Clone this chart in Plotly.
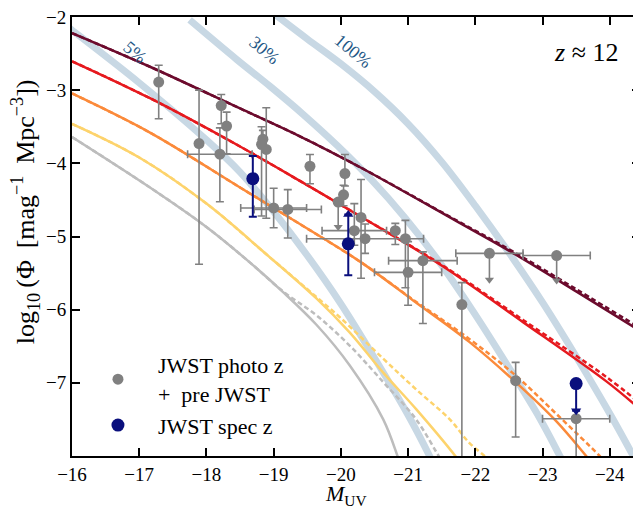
import numpy as np
import plotly.graph_objects as go

# ---- model curves (M_UV, log10 Phi) ----
maroon_M = [-16.0, -17.16, -18.5, -19.39, -20.28, -21.72, -22.55, -23.5, -24.45]
maroon_phi = [-2.22, -2.68, -3.25, -3.63, -4.05, -4.79, -5.22, -5.75, -6.29]
maroon_dash_M = [-16.0, -17.16, -18.5, -19.39, -20.28, -21.72, -22.55, -23.5, -24.45]
maroon_dash_phi = [-2.22, -2.68, -3.25, -3.63, -4.05, -4.78, -5.20, -5.72, -6.25]

red_M = [-16.0, -17.16, -18.5, -19.39, -20.28, -21.47, -22.71, -23.95, -24.45]
red_phi = [-2.605, -3.11, -3.77, -4.24, -4.72, -5.38, -6.17, -6.98, -7.36]
red_dash_M = [-16.0, -17.16, -18.5, -19.39, -20.28, -21.47, -22.71, -23.95, -24.45]
red_dash_phi = [-2.605, -3.11, -3.77, -4.24, -4.72, -5.37, -6.14, -6.92, -7.28]

orange_M = [-16.0, -17.16, -18.5, -19.39, -20.28, -21.07, -21.91, -22.6, -23.2, -23.65, -23.8]
orange_phi = [-3.045, -3.58, -4.33, -4.83, -5.34, -5.87, -6.44, -6.99, -7.52, -8.0, -8.17]
orange_dash_M = [-16.0, -17.16, -18.5, -19.39, -20.28, -21.07, -21.91, -22.6, -23.2, -23.85, -24.0]
orange_dash_phi = [-3.045, -3.58, -4.33, -4.83, -5.34, -5.86, -6.40, -6.90, -7.42, -8.0, -8.15]

yellow_M = [-16.0, -17.0, -18.0, -18.9, -19.64, -20.13, -20.63, -21.12, -21.72, -21.8]
yellow_phi = [-3.46, -3.92, -4.55, -5.25, -5.85, -6.31, -6.86, -7.36, -8.02, -8.12]
yellow_dash_M = [-16.0, -17.0, -18.0, -18.9, -19.64, -19.98, -20.63, -21.12, -21.62, -21.91, -22.16, -22.25]
yellow_dash_phi = [-3.46, -3.92, -4.55, -5.25, -5.83, -6.10, -6.67, -7.09, -7.50, -7.82, -8.02, -8.12]

grey_M = [-16.0, -17.16, -18.0, -18.64, -19.14, -19.64, -20.13, -20.63, -20.85, -20.9]
grey_phi = [-3.64, -4.33, -4.87, -5.35, -5.76, -6.21, -6.76, -7.50, -8.02, -8.15]
grey_dash_M = [-16.0, -17.16, -18.0, -18.64, -19.14, -19.64, -20.13, -20.63, -21.12, -21.47, -21.55]
grey_dash_phi = [-3.64, -4.33, -4.87, -5.35, -5.75, -6.08, -6.49, -6.99, -7.50, -8.02, -8.12]

# ---- maximum-efficiency bands ----
band5_M = [-15.8, -16.0, -17.0, -18.0, -18.5, -19.0, -19.5, -20.0, -20.5, -21.0, -21.32, -21.45]
band5_phi = [-2.04, -2.18, -2.9, -3.68, -4.12, -4.66, -5.26, -5.92, -6.66, -7.44, -8.0, -8.25]
band30_M = [-17.75, -18.45, -18.95, -19.45, -19.95, -20.45, -20.95, -21.45, -21.95, -22.45, -22.95, -23.27, -23.4]
band30_phi = [-2.04, -2.58, -2.95, -3.34, -3.76, -4.22, -4.74, -5.33, -6.0, -6.72, -7.47, -8.02, -8.25]
band100_M = [-19.0, -19.5, -20.0, -20.5, -21.0, -21.5, -22.0, -22.5, -23.0, -23.5, -24.0, -24.35, -24.5]
band100_phi = [-1.95, -2.3, -2.64, -3.02, -3.46, -3.98, -4.58, -5.22, -5.9, -6.64, -7.42, -8.0, -8.25]
band_labels = ["5%", "30%", "100%"]
band_label_M = [-16.93, -18.86, -20.18]
band_label_phi = [-2.48, -2.45, -2.47]

# ---- data points ----
obs_M = [-17.29, -17.89, -18.20, -18.22, -18.30, -18.84, -18.82, -18.89, -19.00, -19.21,
         -19.54, -20.06, -20.04, -19.96, -20.30, -20.20, -20.36, -20.81, -20.96, -21.22,
         -21.00, -21.80, -22.21, -23.21, -22.60, -23.50]
obs_phi = [-2.89, -3.73, -3.875, -3.21, -3.49, -3.67, -3.74, -3.81, -4.61, -4.63,
           -4.04, -4.14, -4.43, -4.53, -4.74, -4.92, -5.03, -4.92, -5.03, -5.33,
           -5.49, -5.93, -5.23, -5.26, -6.97, -7.49]
obs_err_up = [0.23, 0.73, 0.36, 0.15, 0.19, 0.12, 0.24, 0.57, 0.27, 0.27,
              0.16, 0.26, 0.13, 0.0, 0.52, 0.37, 0.20, 0.10, 0.25, 0.12,
              0.42, 0.30, 0.0, 0.0, 0.25, 0.0]
obs_err_dn = [0.50, 1.65, 0.65, 0.25, 0.38, 0.13, 0.98, 0.94, 0.27, 0.39,
              0.24, 0.17, 0.15, 0.34, 0.83, 0.20, 0.20, 0.19, 0.67, 0.86,
              0.45, 2.10, 0.36, 0.34, 0.77, 0.60]
obs_xerr = [0, 0, 0.48, 0, 0, 0, 0, 0, 0.49, 0.50,
            0, 0, 0, 0, 0, 0.48, 0.87, 0, 0, 0.51,
            0.50, 0, 0.50, 0.50, 0, 0.50]
obs_upper_limit = [0, 0, 0, 0, 0, 0, 0, 0, 0, 0,
                   0, 0, 0, 1, 0, 0, 0, 0, 0, 0,
                   0, 0, 1, 1, 0, 0]

spec_M = [-18.69, -20.11, -23.50]
spec_phi = [-4.21, -5.10, -7.01]
spec_err_up = [0.31, 0.40, 0.0]
spec_err_dn = [0.52, 0.43, 0.37]
spec_limit = [0, 1, -1]   # +1 lower limit (arrow up), -1 upper limit (arrow down)

SERIF = "Liberation Serif, Times New Roman, serif"
GREY_PT = "#808080"
NAVY = "#0a0f7d"
BAND = "#c8d8e4"

fig = go.Figure()

# bands
for bm, bp in [(band5_M, band5_phi), (band30_M, band30_phi), (band100_M, band100_phi)]:
    fig.add_trace(go.Scatter(x=bm, y=bp, mode="lines", line=dict(color=BAND, width=7, shape="spline"),
                             showlegend=False, hoverinfo="skip"))

# model curves: dashed first, solid on top
curves = [
    (grey_M, grey_phi, grey_dash_M, grey_dash_phi, "#bdbdbd"),
    (yellow_M, yellow_phi, yellow_dash_M, yellow_dash_phi, "#fdd36c"),
    (orange_M, orange_phi, orange_dash_M, orange_dash_phi, "#fb8a3a"),
    (red_M, red_phi, red_dash_M, red_dash_phi, "#e6191e"),
    (maroon_M, maroon_phi, maroon_dash_M, maroon_dash_phi, "#6c0b2d"),
]
for sm, sp, dm, dp, col in curves:
    fig.add_trace(go.Scatter(x=dm, y=dp, mode="lines",
                             line=dict(color=col, width=2.5, dash="5px,3px", shape="spline"),
                             showlegend=False, hoverinfo="skip"))
    fig.add_trace(go.Scatter(x=sm, y=sp, mode="lines", line=dict(color=col, width=2.5, shape="spline"),
                             showlegend=False, hoverinfo="skip"))

# photometric + pre-JWST points
obs_M_a = np.array(obs_M)
obs_phi_a = np.array(obs_phi)
ul = np.array(obs_upper_limit) == 1
det = ~ul
fig.add_trace(go.Scatter(
    x=obs_M_a[det], y=obs_phi_a[det], mode="markers",
    marker=dict(color=GREY_PT, size=11),
    error_y=dict(type="data", symmetric=False, array=np.array(obs_err_up)[det],
                 arrayminus=np.array(obs_err_dn)[det], color=GREY_PT, thickness=1.6, width=4),
    error_x=dict(type="data", array=np.array(obs_xerr)[det], color=GREY_PT, thickness=1.6, width=4),
    name="JWST photo z<br>+\u00a0 pre JWST", legendgroup="a", showlegend=True))
fig.add_trace(go.Scatter(
    x=obs_M_a[ul], y=obs_phi_a[ul], mode="markers",
    marker=dict(color=GREY_PT, size=11),
    error_y=dict(type="data", symmetric=False, array=np.array(obs_err_up)[ul],
                 arrayminus=np.array(obs_err_dn)[ul], color=GREY_PT, thickness=1.6, width=0),
    error_x=dict(type="data", array=np.array(obs_xerr)[ul], color=GREY_PT, thickness=1.6, width=4),
    showlegend=False, hoverinfo="skip"))
fig.add_trace(go.Scatter(
    x=obs_M_a[ul], y=obs_phi_a[ul] - np.array(obs_err_dn)[ul], mode="markers",
    marker=dict(color=GREY_PT, size=8, symbol="triangle-down"),
    showlegend=False, hoverinfo="skip"))

# spectroscopic points
spec_M_a = np.array(spec_M)
spec_phi_a = np.array(spec_phi)
lim = np.array(spec_limit)
fig.add_trace(go.Scatter(
    x=spec_M_a, y=spec_phi_a, mode="markers",
    marker=dict(color=NAVY, size=13),
    error_y=dict(type="data", symmetric=False, array=spec_err_up, arrayminus=spec_err_dn,
                 color=NAVY, thickness=2, width=4),
    name="JWST spec z", legendgroup="b", showlegend=True))
tip_y = np.where(lim > 0, spec_phi_a + np.array(spec_err_up), spec_phi_a - np.array(spec_err_dn))
fig.add_trace(go.Scatter(
    x=spec_M_a[lim != 0], y=tip_y[lim != 0], mode="markers",
    marker=dict(color=NAVY, size=9,
                symbol=["triangle-up" if v > 0 else "triangle-down" for v in lim[lim != 0]]),
    showlegend=False, hoverinfo="skip"))

# band labels
for txt, bx, by in zip(band_labels, band_label_M, band_label_phi):
    fig.add_annotation(x=bx, y=by, text=txt, showarrow=False, textangle=40,
                       font=dict(family=SERIF, size=18, color="#1f5886"))

fig.add_annotation(x=0.965, y=0.918, xref="paper", yref="paper", text="<i>z</i> ≈ 12",
                   showarrow=False, xanchor="right", yanchor="middle",
                   font=dict(family=SERIF, size=26, color="black"))

# axis titles as annotations so they sit where the original has them
fig.add_annotation(x=0.482, y=-0.088, xref="paper", yref="paper", text="<i>M</i><sub>UV</sub>",
                   showarrow=False, xanchor="center", yanchor="middle", borderpad=0,
                   font=dict(family=SERIF, size=22, color="black"))
fig.add_annotation(x=-0.082, y=0.556, xref="paper", yref="paper", textangle=-90,
                   text="log<sub>10</sub>\u2009(Φ\u2009 [mag<sup>−1</sup>\u2009 Mpc<sup>−3</sup>])",
                   showarrow=False, xanchor="center", yanchor="middle", borderpad=0,
                   font=dict(family=SERIF, size=26, color="black"))

axis_common = dict(showline=True, linecolor="black", linewidth=1.8, mirror="allticks",
                   ticks="inside", ticklen=8, tickwidth=1.5, tickcolor="black",
                   showgrid=False, zeroline=False, ticklabeloverflow="allow",
                   tickfont=dict(family=SERIF, size=19, color="black"))

xt = list(range(-16, -25, -1))
yt = list(range(-7, -1))
fig.update_xaxes(range=[-16, -24.45], tickvals=xt, ticktext=[f"−{abs(v)}" for v in xt],
                 **axis_common)
fig.update_yaxes(range=[-8, -2], tickvals=yt, ticktext=[f"−{abs(v)}" for v in yt],
                 **axis_common)

# page body keeps an 8px margin, so the figure is 8px smaller than the window
fig.update_layout(
    width=633, height=500,
    margin=dict(l=64, r=1, t=9, b=52, autoexpand=False),
    plot_bgcolor="white", paper_bgcolor="white",
    legend=dict(x=0.0105, y=0.255, xanchor="left", yanchor="top", bgcolor="rgba(0,0,0,0)",
                font=dict(family=SERIF, size=22, color="black"), itemwidth=70,
                tracegroupgap=0, valign="middle"),
)

fig.write_html("out.html")
